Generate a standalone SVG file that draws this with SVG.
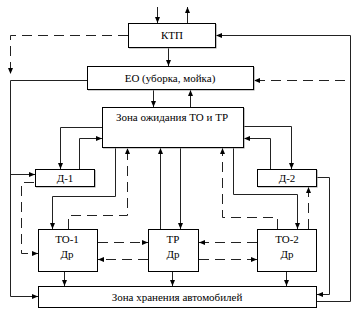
<svg xmlns="http://www.w3.org/2000/svg" width="363" height="324" viewBox="0 0 363 324">
<defs>
<marker id="ah" markerUnits="userSpaceOnUse" markerWidth="6" markerHeight="5" refX="6" refY="2.5" orient="auto">
<path d="M0,0 L6,2.5 L0,5 z" fill="#000"/>
</marker>
<style>
.box{fill:#fff;stroke:#000;stroke-width:1}
.sh{fill:none;stroke:#999;stroke-width:1.2}
.t{font-family:'Liberation Serif','DejaVu Serif','Times New Roman',serif;font-size:11px;fill:#000;text-anchor:middle}
.c{fill:none;stroke:#222;stroke-width:1;marker-end:url(#ah)}
.d{fill:none;stroke:#222;stroke-width:1;stroke-dasharray:10,6;marker-end:url(#ah)}
</style>
</defs>
<rect width="363" height="324" fill="#fff"/>
<g id="connectors">
<polyline class="c" points="157.5,7 157.5,23"/>
<polyline class="c" points="187.5,23 187.5,7"/>
<polyline class="c" points="168.5,48 168.5,66"/>
<polyline class="c" points="153.5,90 153.5,107"/>
<polyline class="c" points="190.5,107 190.5,90"/>
<polyline class="c" points="317,301.5 350.5,301.5 350.5,35.5 216,35.5"/>
<polyline class="c" points="87,80.5 10.5,80.5 10.5,296.5 38,296.5"/>
<polyline class="c" points="10.5,174.5 35,174.5"/>
<polyline class="c" points="102,127.5 60.5,127.5 60.5,169"/>
<polyline class="c" points="79.5,169 79.5,138.5 102,138.5"/>
<polyline class="c" points="244,126.5 291.5,126.5 291.5,169"/>
<polyline class="c" points="270.5,169 270.5,138.5 244,138.5"/>
<polyline class="c" points="115.5,148 115.5,196.5 52.5,196.5 52.5,229"/>
<polyline class="c" points="160.5,229 160.5,148"/>
<polyline class="c" points="180.5,148 180.5,229"/>
<polyline class="c" points="233.5,148 233.5,194.5 297.5,194.5 297.5,229"/>
<polyline class="c" points="317,177.5 329.5,177.5 329.5,294.5 317,294.5"/>
<polyline class="c" points="64.5,272 64.5,286"/>
<polyline class="c" points="172.5,272 172.5,286"/>
<polyline class="c" points="286.5,272 286.5,286"/>
<polyline class="d" points="128,35.5 10.5,35.5 10.5,74"/>
<polyline class="d" points="345,80.5 254,80.5"/>
<polyline class="d" points="34,182.5 21.5,182.5 21.5,253.5 38,253.5"/>
<polyline class="d" points="68.5,229 68.5,215.5 127.5,215.5 127.5,148"/>
<polyline class="d" points="277.5,229 277.5,217.5 222.5,217.5 222.5,148"/>
<polyline class="d" points="308.5,229 308.5,187"/>
<polyline class="d" points="98,242.5 148,242.5"/>
<polyline class="d" points="148,259.5 98,259.5"/>
<polyline class="d" points="257,242.5 199,242.5"/>
<polyline class="d" points="199,259.5 257,259.5"/>
</g>
<g id="ktp">
<polyline class="sh" points="216,24 216,48 129,48"/>
<rect class="box" x="128.5" y="23.5" width="87" height="24"/>
<text class="t" x="172" y="39" font-family="Liberation Serif, DejaVu Serif, serif">КТП</text>
</g>
<g id="eo">
<polyline class="sh" points="254,67 254,90 88,90"/>
<rect class="box" x="87.5" y="66.5" width="166" height="23"/>
<text class="t" x="170" y="81.5" font-family="Liberation Serif, DejaVu Serif, serif">ЕО (уборка, мойка)</text>
</g>
<g id="zona-ozhidaniya">
<polyline class="sh" points="244,108 244,148 103,148"/>
<rect class="box" x="102.5" y="107.5" width="141" height="40"/>
<text class="t" x="172" y="121" font-family="Liberation Serif, DejaVu Serif, serif">Зона ожидания ТО и ТР</text>
</g>
<g id="d1">
<polyline class="sh" points="95,170 95,187 36,187"/>
<rect class="box" x="35.5" y="169.5" width="59" height="17"/>
<text class="t" x="65" y="182" font-family="Liberation Serif, DejaVu Serif, serif">Д-1</text>
</g>
<g id="d2">
<polyline class="sh" points="317,170 317,187 258,187"/>
<rect class="box" x="257.5" y="169.5" width="59" height="17"/>
<text class="t" x="287" y="182" font-family="Liberation Serif, DejaVu Serif, serif">Д-2</text>
</g>
<g id="to1">
<rect class="box" x="38.5" y="229.5" width="59" height="42"/>
<text class="t" x="67" y="243" font-family="Liberation Serif, DejaVu Serif, serif">ТО-1</text>
<text class="t" x="67" y="258" font-family="Liberation Serif, DejaVu Serif, serif">Др</text>
</g>
<g id="tr">
<rect class="box" x="148.5" y="229.5" width="50" height="42"/>
<text class="t" x="173" y="243" font-family="Liberation Serif, DejaVu Serif, serif">ТР</text>
<text class="t" x="173" y="258" font-family="Liberation Serif, DejaVu Serif, serif">Др</text>
</g>
<g id="to2">
<rect class="box" x="257.5" y="229.5" width="59" height="42"/>
<text class="t" x="287" y="243" font-family="Liberation Serif, DejaVu Serif, serif">ТО-2</text>
<text class="t" x="287" y="258" font-family="Liberation Serif, DejaVu Serif, serif">Др</text>
</g>
<g id="zona-khraneniya">
<rect class="box" x="38.5" y="286.5" width="278" height="21"/>
<text class="t" x="177" y="300.5" font-family="Liberation Serif, DejaVu Serif, serif">Зона хранения автомобилей</text>
</g>
</svg>
